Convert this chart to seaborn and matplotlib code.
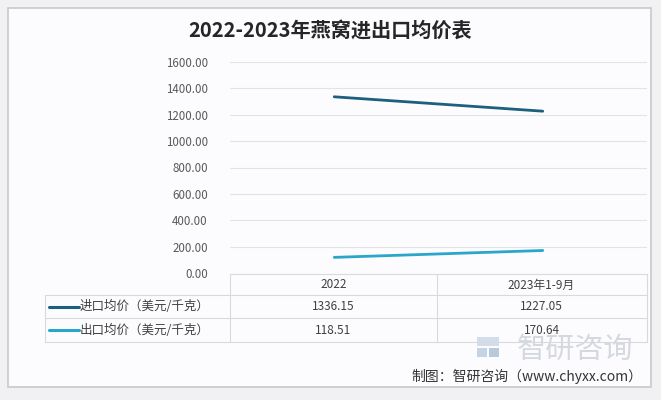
import matplotlib
matplotlib.use("Agg")
import matplotlib.pyplot as plt
import seaborn as sns
import pandas as pd
from matplotlib.patches import Rectangle
from matplotlib.lines import Line2D

categories = ["2022", "2023年1-9月"]
import_price = [1336.15, 1227.05]
export_price = [118.51, 170.64]
series_names = ["进口均价（美元/千克）", "出口均价（美元/千克）"]
y_ticks = [0, 200, 400, 600, 800, 1000, 1200, 1400, 1600]
title = "2022-2023年燕窝进出口均价表"
source = "制图：智研咨询（www.chyxx.com）"

sns.set_theme(style="white")
plt.rcParams['font.family'] = ['Noto Sans CJK SC', 'DejaVu Sans']

W, H = 661, 400
fig = plt.figure(figsize=(W / 100, H / 100), dpi=100, facecolor="#f1f1f3")

def fx(x):
    return x / W

def fy(y):
    return 1 - y / H

# outer panel
fig.patches.append(Rectangle((fx(8), fy(387)), fx(643), (387 - 8) / H,
                             transform=fig.transFigure, facecolor="#fcfcfe",
                             edgecolor="#c9c9cc", linewidth=1.2, zorder=-5))

colors = ["#1d5f7e", "#2ba6cb"]
df = pd.DataFrame({
    "x": list(range(len(categories))) * 2,
    "value": import_price + export_price,
    "series": [series_names[0]] * len(categories) + [series_names[1]] * len(categories),
})

x0, x1, yt, yb = 230, 647, 62, 273
ax = fig.add_axes([fx(x0), fy(yb), (x1 - x0) / W, (yb - yt) / H])
ax.set_zorder(2)
ax.set_facecolor("none")
sns.lineplot(data=df, x="x", y="value", hue="series", palette=colors, ax=ax,
             linewidth=2.0, legend=False, zorder=3)
ax.set_xlim(-0.5, len(categories) - 0.5)
ax.set_ylim(0, 1600)
ax.set_yticks(y_ticks)
ax.set_yticklabels([f"{v:.2f}" for v in y_ticks], fontsize=8.3, color="#595959")
ax.set_xticks([])
ax.set_xlabel("")
ax.set_ylabel("")
ax.tick_params(axis="y", length=0, pad=16)
for s in ax.spines.values():
    s.set_visible(False)
ax.yaxis.grid(True, color="#e3e3e6", linewidth=0.8)
ax.set_axisbelow(True)

# title
fig.text(fx(330), fy(31), title, ha="center", va="center", fontsize=14.5,
         fontweight="bold", color="#262626")

# data table
lc = "#d9d9dc"
def hline(y, xa, xb):
    fig.add_artist(Line2D([fx(xa), fx(xb)], [fy(y), fy(y)], color=lc, linewidth=0.8,
                          transform=fig.transFigure))

def vline(x, ya, yb_):
    fig.add_artist(Line2D([fx(x), fx(x)], [fy(ya), fy(yb_)], color=lc, linewidth=0.8,
                          transform=fig.transFigure))

row_y = [274, 295, 318, 342]
hline(row_y[0], 230, 647)
for y in row_y[1:]:
    hline(y, 45, 647)
vline(45, 295, 342)
vline(230, 274, 342)
vline(437, 274, 342)
vline(647, 274, 342)

col_centers = [333.5, 541.5]
for cx, cat in zip(col_centers, categories):
    fig.text(fx(cx), fy(285), cat, ha="center", va="center", fontsize=8.5, color="#404040")

data_rows = [import_price, export_price]
for i, (name, vals, c) in enumerate(zip(series_names, data_rows, colors)):
    cy = (row_y[i + 1] + row_y[i + 2]) / 2
    fig.add_artist(Line2D([fx(49), fx(79)], [fy(cy), fy(cy)], color=c, linewidth=2.2,
                          transform=fig.transFigure))
    fig.text(fx(80), fy(cy), name, ha="left", va="center", fontsize=9, color="#404040")
    for cx, v in zip(col_centers, vals):
        fig.text(fx(cx), fy(cy), f"{v:.2f}", ha="center", va="center", fontsize=8.5,
                 color="#404040")

# watermark
fig.patches.append(Rectangle((fx(477), fy(357)), fx(10), 9 / H, transform=fig.transFigure,
                             facecolor="#c5d3e3", edgecolor="none", zorder=1))
fig.patches.append(Rectangle((fx(489), fy(357)), fx(10), 9 / H, transform=fig.transFigure,
                             facecolor="#b7c9dd", edgecolor="none", zorder=1))
fig.patches.append(Rectangle((fx(477), fy(346)), fx(22), 9 / H, transform=fig.transFigure,
                             facecolor="#d3dde9", edgecolor="none", zorder=1))
fig.text(fx(575), fy(350), "智研咨询", ha="center", va="center", fontsize=21,
         color="#d5d9df", zorder=1)
fig.text(fx(642), fy(376), source, ha="right", va="center", fontsize=10, color="#333333")

fig.savefig("out.png", dpi=100, facecolor=fig.get_facecolor())
